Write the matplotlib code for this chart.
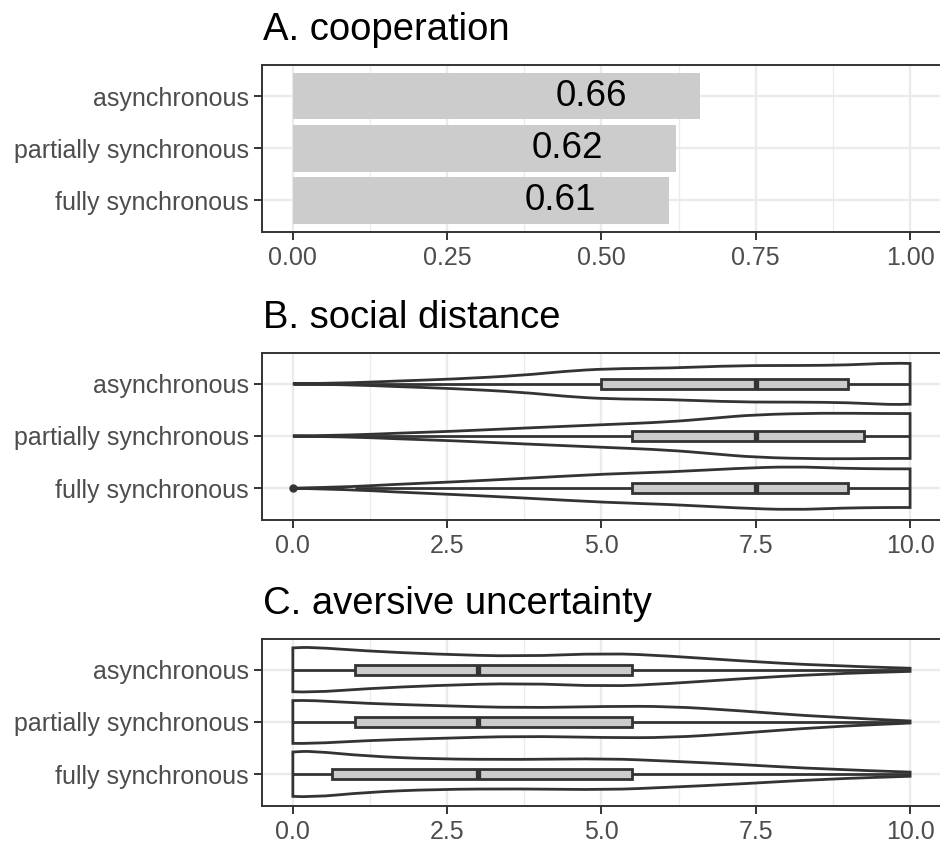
import matplotlib
matplotlib.use("Agg")
import matplotlib.pyplot as plt
from matplotlib.path import Path
from matplotlib.patches import PathPatch, Rectangle

plt.rcParams['font.family'] = ['Liberation Sans', 'DejaVu Sans']

# categories, top to bottom in the picture
groups = ['fully synchronous', 'partially synchronous', 'asynchronous']

# A. cooperation
coop = [0.61, 0.62, 0.66]
coop_labels = ['0.61', '0.62', '0.66']

# violin outlines: x positions and half widths
# B. social distance
sd_x = {
    'asynchronous': [0, 1, 1.6, 2.6, 3.7, 4.4, 5.1, 6.1, 7.2, 8.2, 9, 9.7, 10],
    'partially synchronous': [0, 1, 1.6, 2.6, 3.7, 5.1, 6.1, 6.8, 7.5, 8.6, 9.5, 10],
    'fully synchronous': [0, 1, 1.6, 2.6, 3.7, 5.1, 6.1, 7.2, 8.1, 8.9, 9.6, 10],
}
sd_w = {
    'asynchronous': [0, 0.02, 0.05, 0.09, 0.16, 0.24, 0.29, 0.30, 0.35, 0.35, 0.36, 0.40, 0.39],
    'partially synchronous': [0, 0.02, 0.05, 0.09, 0.15, 0.22, 0.27, 0.34, 0.41, 0.44, 0.43, 0.43],
    'fully synchronous': [0, 0.03, 0.07, 0.12, 0.185, 0.275, 0.31, 0.38, 0.415, 0.38, 0.37, 0.37],
}
# box stats: whisker low, q1, median, q3, whisker high
sd_box = {
    'asynchronous': [0, 5, 7.5, 9, 10],
    'partially synchronous': [0, 5.5, 7.5, 9.25, 10],
    'fully synchronous': [1, 5.5, 7.5, 9, 10],
}
sd_outliers = {'asynchronous': [], 'partially synchronous': [], 'fully synchronous': [0]}

# C. aversive uncertainty
au_x = {
    'asynchronous': [0, 0.3, 1.2, 2.3, 3.7, 5.1, 6.1, 7.2, 8.6, 10],
    'partially synchronous': [0, 0.3, 1.2, 2.3, 3.7, 5.1, 6.1, 7.2, 8.6, 10],
    'fully synchronous': [0, 0.3, 1.2, 2.3, 3.7, 5.1, 6.1, 7.2, 8.6, 10],
}
au_w = {
    'asynchronous': [0.42, 0.435, 0.36, 0.30, 0.255, 0.32, 0.265, 0.175, 0.08, 0.03],
    'partially synchronous': [0.41, 0.415, 0.355, 0.315, 0.27, 0.30, 0.30, 0.22, 0.095, 0.02],
    'fully synchronous': [0.425, 0.445, 0.345, 0.29, 0.28, 0.30, 0.25, 0.19, 0.095, 0.04],
}
au_box = {
    'asynchronous': [0, 1, 3, 5.5, 10],
    'partially synchronous': [0, 1, 3, 5.5, 10],
    'fully synchronous': [0, 0.63, 3, 5.5, 10],
}
au_outliers = {'asynchronous': [], 'partially synchronous': [], 'fully synchronous': []}

DARK = '#333333'
GRID = '#EBEBEB'
FILL = '#CCCCCC'
LW = 2.0


def smooth(pts):
    # quadratic bezier through midpoints, for a smooth outline
    verts, codes = [], []
    n = len(pts)
    mid = lambda a, b: ((a[0] + b[0]) / 2, (a[1] + b[1]) / 2)
    verts.append(mid(pts[0], pts[1]))
    codes.append(Path.LINETO)
    for i in range(1, n - 1):
        end = mid(pts[i], pts[i + 1]) if i < n - 2 else pts[n - 1]
        verts += [pts[i], end]
        codes += [Path.CURVE3, Path.CURVE3]
    return verts, codes


def violin(ax, y, xs, ws):
    upper = [(x, y + w) for x, w in zip(xs, ws)]
    lower = [(x, y - w) for x, w in zip(xs, ws)][::-1]
    verts, codes = [upper[0]], [Path.MOVETO]
    v, c = smooth(upper)
    verts += v
    codes += c
    verts.append(lower[0])
    codes.append(Path.LINETO)
    v, c = smooth(lower)
    verts += v
    codes += c
    verts.append(upper[0])
    codes.append(Path.CLOSEPOLY)
    ax.add_patch(PathPatch(Path(verts, codes), facecolor='white',
                           edgecolor=DARK, lw=LW, zorder=2))


def box(ax, y, stats, outliers):
    lo, q1, med, q3, hi = stats
    h = 0.2
    ax.plot([lo, q1], [y, y], color=DARK, lw=LW, zorder=3, solid_capstyle='butt')
    ax.plot([q3, hi], [y, y], color=DARK, lw=LW, zorder=3, solid_capstyle='butt')
    ax.add_patch(Rectangle((q1, y - h / 2), q3 - q1, h, facecolor=FILL,
                           edgecolor=DARK, lw=LW, zorder=4))
    ax.plot([med, med], [y - h / 2, y + h / 2], color=DARK, lw=3.8, zorder=5,
            solid_capstyle='butt')
    if outliers:
        ax.plot(outliers, [y] * len(outliers), 'o', color=DARK, ms=5, zorder=5)


def style(ax, ticks, ticklabels, minor, title):
    ax.set_xlim(ticks[0] - 0.05 * (ticks[-1] - ticks[0]),
                ticks[-1] + 0.05 * (ticks[-1] - ticks[0]))
    ax.set_ylim(0.4, 3.6)
    ax.set_xticks(ticks)
    ax.set_xticklabels(ticklabels)
    ax.set_xticks(minor, minor=True)
    ax.set_yticks([1, 2, 3])
    ax.set_yticklabels(groups)
    ax.grid(True, which='major', color=GRID, lw=1.7, zorder=0)
    ax.grid(True, which='minor', axis='x', color=GRID, lw=0.9, zorder=0)
    ax.set_axisbelow(True)
    ax.tick_params(axis='both', which='major', length=5.5, width=1.4,
                   color=DARK, labelcolor='#4D4D4D', labelsize=18)
    ax.tick_params(axis='x', pad=5)
    ax.tick_params(axis='y', pad=4)
    ax.tick_params(which='minor', length=0)
    for s in ax.spines.values():
        s.set_color(DARK)
        s.set_linewidth(1.4)
    ax.annotate(title, xy=(0, 1), xycoords='axes fraction',
                xytext=(1, 18), textcoords='offset points',
                ha='left', va='baseline', fontsize=27.5, color='black')


fig = plt.figure(figsize=(9.4, 8.44), dpi=100)
W, H = 940, 844
left, right = 262 / W, 1.001
tops = [64.7, 352.5, 638.5]
ph = 167

axes = []
for t in tops:
    axes.append(fig.add_axes([left, 1 - (t + ph) / H, right - left, ph / H]))

# A
ax = axes[0]
ax.barh([1, 2, 3], coop, height=0.9, color=FILL, zorder=2)
for i, (v, lab) in enumerate(zip(coop, coop_labels)):
    ax.text(v - 0.176, i + 1, lab, ha='center', va='center', fontsize=26.5,
            color='black', zorder=3)
style(ax, [0, 0.25, 0.5, 0.75, 1.0], ['0.00', '0.25', '0.50', '0.75', '1.00'],
      [0.125, 0.375, 0.625, 0.875], 'A. cooperation')

# B
ax = axes[1]
for i, g in enumerate(groups):
    violin(ax, i + 1, sd_x[g], sd_w[g])
    box(ax, i + 1, sd_box[g], sd_outliers[g])
style(ax, [0, 2.5, 5, 7.5, 10], ['0.0', '2.5', '5.0', '7.5', '10.0'],
      [1.25, 3.75, 6.25, 8.75], 'B. social distance')

# C
ax = axes[2]
for i, g in enumerate(groups):
    violin(ax, i + 1, au_x[g], au_w[g])
    box(ax, i + 1, au_box[g], au_outliers[g])
style(ax, [0, 2.5, 5, 7.5, 10], ['0.0', '2.5', '5.0', '7.5', '10.0'],
      [1.25, 3.75, 6.25, 8.75], 'C. aversive uncertainty')

fig.savefig('out.png', dpi=100)
